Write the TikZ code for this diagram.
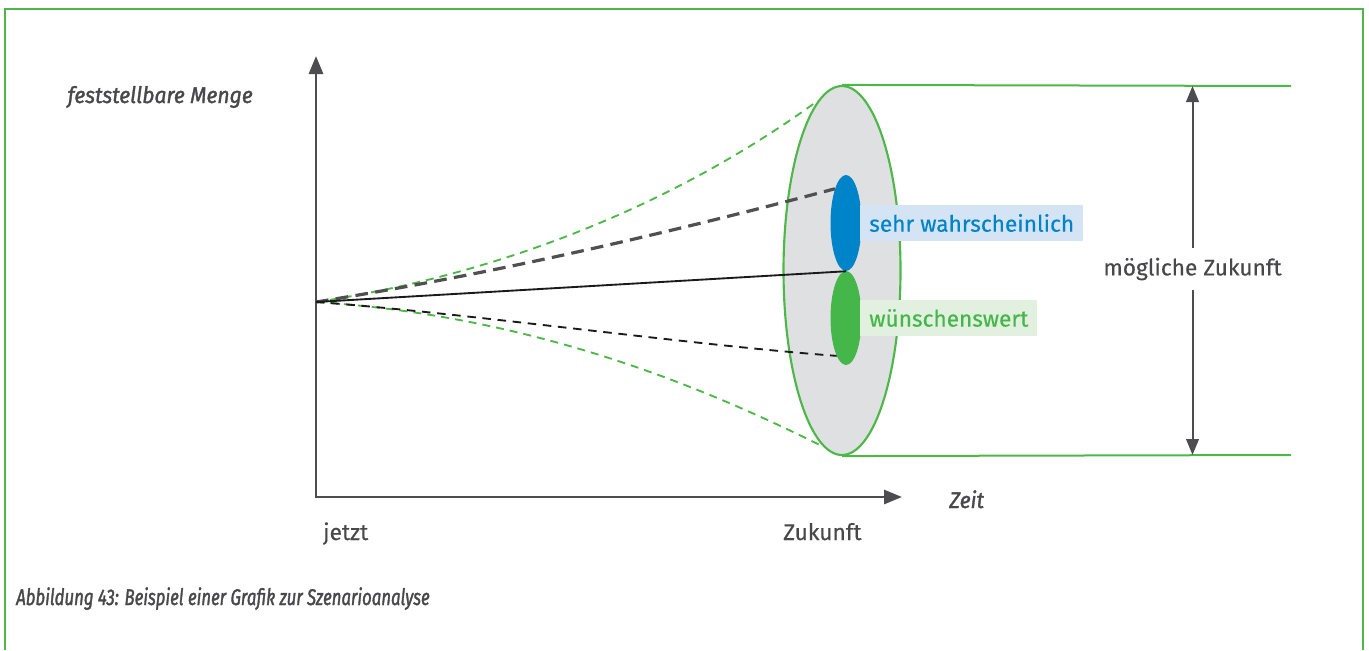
\documentclass[tikz,border=0pt]{standalone}
\usepackage{fontspec}
\setmainfont{Fira Sans}[FakeBold=0.35]
\newfontfamily\itfont[FakeBold=1.5,FakeStretch=0.93]{Fira Sans}
\newfontfamily\capfont[FakeBold=1.5,FakeStretch=0.74]{Fira Sans}
\usetikzlibrary{arrows.meta,shapes.geometric}
\definecolor{frgreen}{HTML}{4DB848}
\definecolor{txtgray}{HTML}{48484A}
\definecolor{axgray}{HTML}{4D4D4F}
\definecolor{diskgray}{HTML}{DFE0E2}
\definecolor{dblue}{HTML}{0084C9}
\definecolor{lblue}{HTML}{D4E4F4}
\definecolor{lgreen}{HTML}{E1F0DF}
\definecolor{dgreen}{HTML}{45B649}
\definecolor{dashgray}{HTML}{505050}
\definecolor{nearblack}{HTML}{1A1A1A}
\tikzset{
  AxTip/.tip={Triangle[length=13.5pt,width=10.5pt]},
  DimTip/.tip={Triangle[length=12pt,width=9.5pt]},
  txt/.style={text=txtgray, inner sep=0pt},
  ittxt/.style={txt, font=\fontsize{17}{20}\itfont\itshape},
  axisline/.style={axgray, line width=2.2pt, line join=miter},
  greenline/.style={frgreen, line width=1.5pt},
  greendash/.style={frgreen, line width=1.4pt, dash pattern=on 6pt off 4.5pt},
  graydash/.style={dashgray, line width=2.4pt, dash pattern=on 9.5pt off 5.5pt},
  blackdash/.style={nearblack, line width=1.4pt, dash pattern=on 6.4pt off 5pt},
  solidline/.style={nearblack, line width=1.4pt},
  disk/.style={ellipse, draw=frgreen, fill=diskgray, line width=1.6pt, inner sep=0pt,
    minimum width=87.75pt, minimum height=276.75pt},
  blob/.style={ellipse, inner sep=0pt, minimum width=23.25pt},
  lab/.style={anchor=west, inner xsep=6.75pt, inner ysep=0pt, minimum height=27pt},
}
\begin{document}
\begin{tikzpicture}[x=0.75pt,y=-0.75pt, font=\fontsize{17}{20}\selectfont]
\useasboundingbox (0,0) rectangle (1369,650);
% frame
\coordinate (fbl) at (5,650);
\coordinate (ftl) at (5,9);
\coordinate (ftr) at (1362.5,9);
\coordinate (fbr) at (1362.5,650);
\draw[greenline] (fbl) -- (ftl) -- (ftr) -- (fbr);
% axes
\coordinate (o) at (316,302);
\coordinate (corner) at (316,497);
\coordinate (ytip) at (316,56);
\coordinate (xtip) at (902,497);
\draw[axisline, AxTip-AxTip] (ytip) -- (corner) -- (xtip);
% disk
\node[disk] (disk) at (842,270.5) {};
\coordinate (tr) at (1291,86);
\coordinate (br) at (1291,455);
\draw[greenline] (disk.north) -- (tr);
\draw[greenline] (disk.south) -- (br);
% ellipses
\node[blob, fill=dblue, minimum height=72pt] (blue) at (846,223) {};
\node[blob, fill=dgreen, minimum height=70.5pt] (wish) at (846,318) {};
% fan lines
\draw[greendash] (o) .. controls (516,272) and (687,196) .. (disk.98);
\draw[greendash] (o) .. controls (516,315) and (680,375) .. (disk.264);
\draw[graydash] (o) .. controls (492,274) and (665,234) .. (blue.108);
\draw[blackdash] (o) .. controls (466,313) and (690,345) .. (wish.256);
\draw[solidline] (o) -- (blue.south);
% labels at ellipses
\node[lab, fill=lblue, text=dblue] (sw) at (860,223) {sehr wahrscheinlich};
\node[lab, fill=lgreen, text=dgreen] (ws) at (860,318) {wünschenswert};
% dimension
\node[txt, minimum height=31.5pt] (mz) at (1192.5,269) {mögliche Zukunft};
\coordinate (at) at (1192.5,86);
\coordinate (ab) at (1192.5,455);
\draw[axgray, line width=1.5pt, -DimTip] (mz) -- (at);
\draw[axgray, line width=1.5pt, -DimTip] (mz) -- (ab);
% axis texts
\node[ittxt, anchor=base east] (ylab) at (253,103) {feststellbare Menge};
\node[ittxt, anchor=base west] (xlab) at (949,508) {Zeit};
\node[txt, anchor=base west] (now) at (323,540) {jetzt};
\node[txt, anchor=base west] (fut) at (783,540) {Zukunft};
% caption
\node[txt, anchor=base west, font=\fontsize{17}{20}\capfont\itshape] (cap) at (16,605) {Abbildung 43: Beispiel einer Grafik zur Szenarioanalyse};
\end{tikzpicture}
\end{document}
